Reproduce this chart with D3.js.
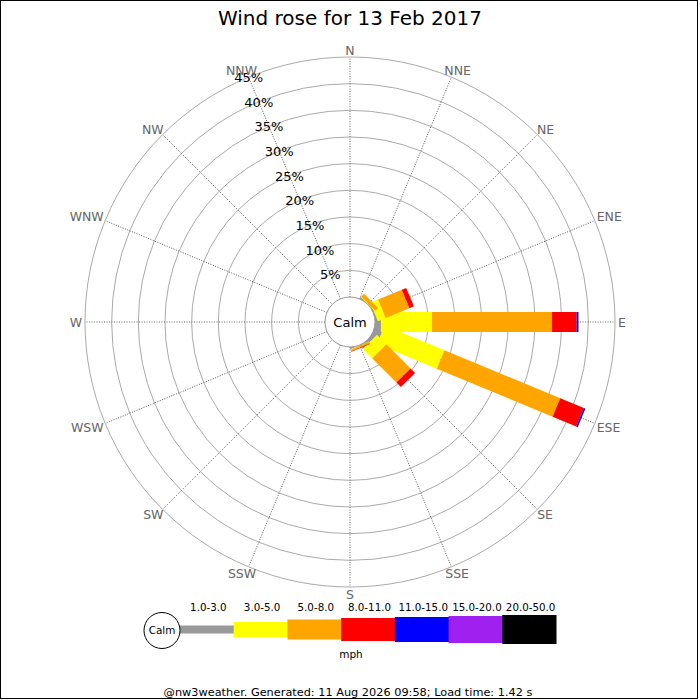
<!DOCTYPE html>
<html>
<head>
<meta charset="utf-8">
<script src="https://cdn.jsdelivr.net/npm/d3@7"></script>
<style>
  body { margin: 0; background: #fff; }
  svg { font-family: 'DejaVu Sans', sans-serif; }
</style>
</head>
<body>
<div id="chart"></div>
<script>
const directions = ['N', 'NNE', 'NE', 'ENE', 'E', 'ESE', 'SE', 'SSE',
  'S', 'SSW', 'SW', 'WSW', 'W', 'WNW', 'NW', 'NNW']
const speedBins = ['1.0-3.0', '3.0-5.0', '5.0-8.0', '8.0-11.0', '11.0-15.0', '15.0-20.0', '20.0-50.0']
const binColors = ['#999999', '#ffff00', '#ffa500', '#ff0000', '#0000ff', '#a020f0', '#000000']
const pctTicks = [5, 10, 15, 20, 25, 30, 35, 40, 45]

// percent of time per direction, one array per speed bin
const bin1to3 = [0, 0, 0.05, 0.2, 1.1, 1.6, 0.6, 0.05, 0, 0, 0, 0, 0, 0, 0, 0]
const bin3to5 = [0, 0, 0.1, 1.6, 9.6, 12.1, 2.5, 0.1, 0, 0, 0, 0, 0, 0, 0, 0]
const bin5to8 = [0, 0, 0.75, 4.8, 22.5, 23.5, 6.4, 0.3, 0, 0, 0, 0, 0, 0, 0, 0]
const bin8to11 = [0, 0, 0, 0.9, 4.6, 4.8, 1.2, 0.1, 0, 0, 0, 0, 0, 0, 0, 0]
const bin11to15 = [0, 0, 0, 0, 0.35, 0.3, 0, 0, 0, 0, 0, 0, 0, 0, 0, 0]
const bin15to20 = [0, 0, 0, 0, 0, 0, 0, 0, 0, 0, 0, 0, 0, 0, 0, 0]
const bin20to50 = [0, 0, 0, 0, 0, 0, 0, 0, 0, 0, 0, 0, 0, 0, 0, 0]
const binValues = [bin1to3, bin3to5, bin5to8, bin8to11, bin11to15, bin15to20, bin20to50]

const W = 700, H = 700
const cx = 350, cy = 322
const calmR = 25, outerR = 265, barW = 20

const svg = d3.select('#chart').append('svg')
  .attr('width', W)
  .attr('height', H)

svg.append('rect')
  .attr('x', 0.5).attr('y', 0.5)
  .attr('width', 697).attr('height', 698)
  .attr('fill', '#fff')
  .attr('stroke', '#000')

svg.append('text')
  .attr('x', cx)
  .attr('y', 25)
  .attr('text-anchor', 'middle')
  .style('font-size', '20px')
  .text('Wind rose for 13 Feb 2017')

const r = d3.scaleLinear().domain([0, 45]).range([calmR, outerR])
const angle = d3.scaleBand().domain(directions).range([0, 360]).align(0).paddingInner(0)
const deg = d => angle(d) // bearing, clockwise from north

const g = svg.append('g').attr('transform', `translate(${cx},${cy})`)

// rings
g.selectAll('circle.ring')
  .data(pctTicks)
  .enter()
  .append('circle')
  .attr('class', 'ring')
  .attr('r', d => r(d))
  .attr('fill', 'none')
  .attr('stroke', '#aaa')
  .attr('stroke-width', 1)

// spokes
g.selectAll('line.spoke')
  .data(directions)
  .enter()
  .append('line')
  .attr('class', 'spoke')
  .attr('transform', d => `rotate(${deg(d)})`)
  .attr('x1', 0).attr('x2', 0)
  .attr('y1', -calmR).attr('y2', -outerR)
  .attr('stroke', '#444')
  .attr('stroke-width', 0.8)
  .attr('stroke-dasharray', '1,1.5')

// stacked bars, drawn series by series (all of one speed bin, then the next)
const stackData = directions.map((d, i) => {
  let acc = 0
  return binValues.map((vals, b) => {
    const seg = { dir: d, bin: b, y0: acc, y1: acc + vals[i] }
    acc += vals[i]
    return seg
  })
})
const segments = speedBins.map((s, b) => stackData.map(col => col[b]))

const series = g.selectAll('g.series')
  .data(segments)
  .enter()
  .append('g')
  .attr('class', 'series')
  .attr('fill', (d, b) => binColors[b])

series.selectAll('rect')
  .data(d => d.filter(s => s.y1 > s.y0))
  .enter()
  .append('rect')
  .attr('transform', d => `rotate(${deg(d.dir)})`)
  .attr('x', -barW / 2)
  .attr('width', barW)
  .attr('y', d => -r(d.y1))
  .attr('height', d => r(d.y1) - (d.y0 === 0 ? 0 : r(d.y0)))

// calm circle
g.append('circle')
  .attr('r', calmR)
  .attr('fill', '#fff')
  .attr('stroke', '#999')
g.append('text')
  .attr('y', 5)
  .attr('text-anchor', 'middle')
  .style('font-size', '13px')
  .text('Calm')

// percent labels along NNW
const nnw = deg('NNW') * Math.PI / 180
g.selectAll('text.pct')
  .data(pctTicks)
  .enter()
  .append('text')
  .attr('class', 'pct')
  .attr('x', d => r(d) * Math.sin(nnw))
  .attr('y', d => -r(d) * Math.cos(nnw) + 5)
  .attr('text-anchor', 'middle')
  .style('font-size', '13px')
  .text(d => d + '%')

// direction labels
g.selectAll('text.dir')
  .data(directions)
  .enter()
  .append('text')
  .attr('class', 'dir')
  .attr('text-anchor', 'middle')
  .style('font-size', '12.5px')
  .attr('fill', '#666')
  .text(d => d)
  .each(function (d) {
    const a = deg(d) * Math.PI / 180
    const hw = this.getComputedTextLength() / 2
    const c = Math.cos(a)
    const x = (268 + hw) * Math.sin(a)
    const y = -268 * c - 4 * Math.sign(c) * Math.sqrt(Math.abs(c))
    d3.select(this).attr('x', x).attr('y', y + 4.5)
  })

// legend
const legX = d3.scaleBand().domain(speedBins).range([180, 556])
const legH = [8, 15, 20, 23, 25, 27, 29]
const legY = 629.5

svg.append('g').selectAll('rect')
  .data(speedBins)
  .enter()
  .append('rect')
  .attr('x', d => legX(d))
  .attr('width', legX.bandwidth() + 0.5)
  .attr('y', (d, i) => legY - legH[i] / 2)
  .attr('height', (d, i) => legH[i])
  .attr('fill', (d, i) => binColors[i])

svg.append('g').selectAll('text')
  .data(speedBins)
  .enter()
  .append('text')
  .attr('x', d => legX(d) + legX.bandwidth() / 2 + 1.5)
  .attr('y', 611)
  .attr('text-anchor', 'middle')
  .style('font-size', '10.3px')
  .text(d => d)

svg.append('circle')
  .attr('cx', 162).attr('cy', 630.5)
  .attr('r', 18)
  .attr('fill', '#fff')
  .attr('stroke', '#000')
svg.append('text')
  .attr('x', 162).attr('y', 634)
  .attr('text-anchor', 'middle')
  .style('font-size', '10.4px')
  .text('Calm')

svg.append('text')
  .attr('x', 351).attr('y', 658)
  .attr('text-anchor', 'middle')
  .style('font-size', '10.5px')
  .text('mph')

svg.append('text')
  .attr('x', 348).attr('y', 696)
  .attr('text-anchor', 'middle')
  .style('font-size', '11.3px')
  .text('@nw3weather. Generated: 11 Aug 2026 09:58; Load time: 1.42 s')
</script>
</body>
</html>
